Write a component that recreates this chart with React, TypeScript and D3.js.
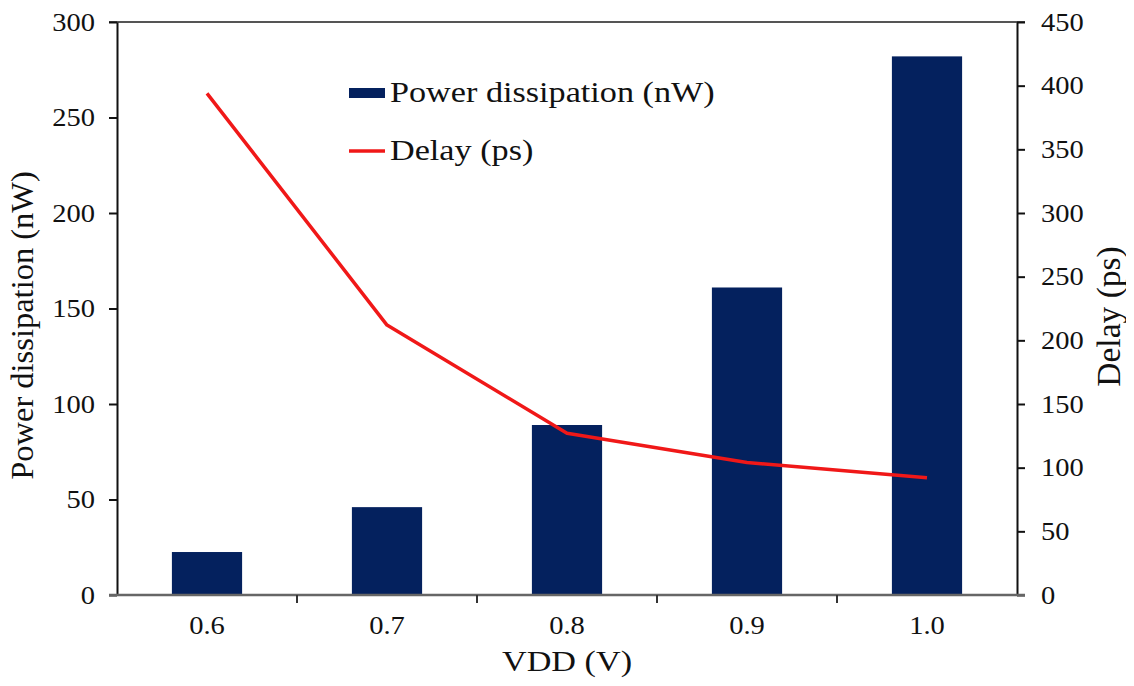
import { useEffect, useRef } from 'react'
import * as d3 from 'd3'

const VDD = ['0.6', '0.7', '0.8', '0.9', '1.0']
const POWER_NW = [22.5, 46, 89, 161, 282]
const DELAY_PS = [394, 212, 127, 104, 92]
const POWER_TICKS = [0, 50, 100, 150, 200, 250, 300]
const DELAY_TICKS = [0, 50, 100, 150, 200, 250, 300, 350, 400, 450]

const W = 1134
const H = 686
const M = { top: 22, right: 117, bottom: 91, left: 117 }
const FONT = "'Liberation Serif', 'Times New Roman', Times, serif"
const NAVY = '#04215e'
const RED = '#f01818'
// the source picture is a little wider than tall, so horizontal text is stretched
const SX = 1.14

export default function App() {
  const svgRef = useRef<SVGSVGElement>(null)

  useEffect(() => {
    const svgEl = svgRef.current
    if (!svgEl) return
    d3.select(svgEl).selectAll('*').remove()

    const iw = W - M.left - M.right
    const ih = H - M.top - M.bottom
    const svg = d3.select(svgEl)
      .append('g')
      .attr('transform', `translate(${M.left},${M.top})`)

    const x = d3.scaleBand<string>().domain(VDD).range([0, iw]).padding(0)
    const yL = d3.scaleLinear().domain([0, 300]).range([ih, 0])
    const yR = d3.scaleLinear().domain([0, 450]).range([ih, 0])
    const barW = x.bandwidth() * 0.39

    const font = (sel: d3.Selection<any, any, any, any>, size: number) =>
      sel.style('font-family', FONT).style('font-size', `${size}px`).attr('fill', '#111')

    // stretched horizontal label
    const label = (parent: d3.Selection<any, any, any, any>, tx: number, ty: number, text: string,
      size: number, anchor = 'start') =>
      font(parent.append('text')
        .attr('transform', `translate(${tx},${ty}) scale(${SX},1)`)
        .attr('text-anchor', anchor)
        .text(text), size)

    // Bars
    svg.selectAll('rect.bar')
      .data(VDD)
      .join('rect')
      .attr('class', 'bar')
      .attr('x', (d) => x(d)! + (x.bandwidth() - barW) / 2)
      .attr('width', barW)
      .attr('y', (_, i) => yL(POWER_NW[i]))
      .attr('height', (_, i) => ih - yL(POWER_NW[i]))
      .attr('fill', NAVY)

    // Delay line
    const line = d3.line<number>()
      .x((_, i) => x(VDD[i])! + x.bandwidth() / 2)
      .y((d) => yR(d))
    svg.append('path')
      .datum(DELAY_PS)
      .attr('d', line)
      .attr('fill', 'none')
      .attr('stroke', RED)
      .attr('stroke-width', 3.5)
      .attr('stroke-linejoin', 'round')

    // Top frame line
    svg.append('line')
      .attr('x1', -8).attr('x2', iw + 8)
      .attr('y1', 0).attr('y2', 0)
      .attr('stroke', '#555').attr('stroke-width', 2)

    // Left axis
    svg.append('g')
      .call(d3.axisLeft(yL).tickValues(POWER_TICKS).tickSize(8).tickSizeOuter(0))
      .call((g) => g.select('.domain').attr('stroke', '#111').attr('stroke-width', 2))
      .call((g) => g.selectAll('.tick line').attr('stroke', '#111').attr('stroke-width', 2))
      .call((g) => font(g.selectAll('.tick text'), 25)
        .attr('x', -22 / SX)
        .attr('transform', `scale(${SX},1)`))

    // Right axis
    svg.append('g')
      .attr('transform', `translate(${iw},0)`)
      .call(d3.axisRight(yR).tickValues(DELAY_TICKS).tickSize(8).tickSizeOuter(0))
      .call((g) => g.select('.domain').attr('stroke', '#111').attr('stroke-width', 2))
      .call((g) => g.selectAll('.tick line').attr('stroke', '#111').attr('stroke-width', 2))
      .call((g) => font(g.selectAll('.tick text'), 25)
        .attr('x', 24 / SX)
        .attr('transform', `scale(${SX},1)`))

    // Bottom axis: category labels with ticks between categories
    const xg = svg.append('g').attr('transform', `translate(0,${ih})`)
    xg.append('line')
      .attr('x1', -8).attr('x2', iw + 8)
      .attr('stroke', '#666').attr('stroke-width', 2.5)
    xg.selectAll('line.sep')
      .data(VDD.slice(1))
      .join('line')
      .attr('class', 'sep')
      .attr('x1', (d) => x(d)!).attr('x2', (d) => x(d)!)
      .attr('y1', 0).attr('y2', 8)
      .attr('stroke', '#333').attr('stroke-width', 2)
    VDD.forEach((d) => label(xg, x(d)! + x.bandwidth() / 2, 39, d, 25, 'middle'))

    // Axis titles
    label(svg, iw / 2, ih + 76, 'VDD (V)', 30, 'middle')
    font(svg.append('text')
      .attr('transform', 'rotate(-90)')
      .attr('x', -ih / 2 - 17).attr('y', -84)
      .attr('text-anchor', 'middle')
      .text('Power dissipation (nW)'), 32.5)
    font(svg.append('text')
      .attr('transform', 'rotate(-90)')
      .attr('x', -ih / 2 - 8).attr('y', iw + 103)
      .attr('text-anchor', 'middle')
      .text('Delay (ps)'), 33.5)

    // Legend
    const lg = svg.append('g').attr('transform', `translate(${349 - M.left},${88 - M.top})`)
    lg.append('rect').attr('x', 0).attr('y', 0).attr('width', 36).attr('height', 10).attr('fill', NAVY)
    label(lg, 41, 14, 'Power dissipation (nW)', 30)
    lg.append('line')
      .attr('x1', 0).attr('x2', 36).attr('y1', 63).attr('y2', 63)
      .attr('stroke', RED).attr('stroke-width', 3.5)
    label(lg, 41, 72, 'Delay (ps)', 30)
  }, [])

  return (
    <div style={{ margin: -8, width: W, height: H, background: '#fff' }}>
      <svg ref={svgRef} width={W} height={H} style={{ display: 'block' }} />
    </div>
  )
}
